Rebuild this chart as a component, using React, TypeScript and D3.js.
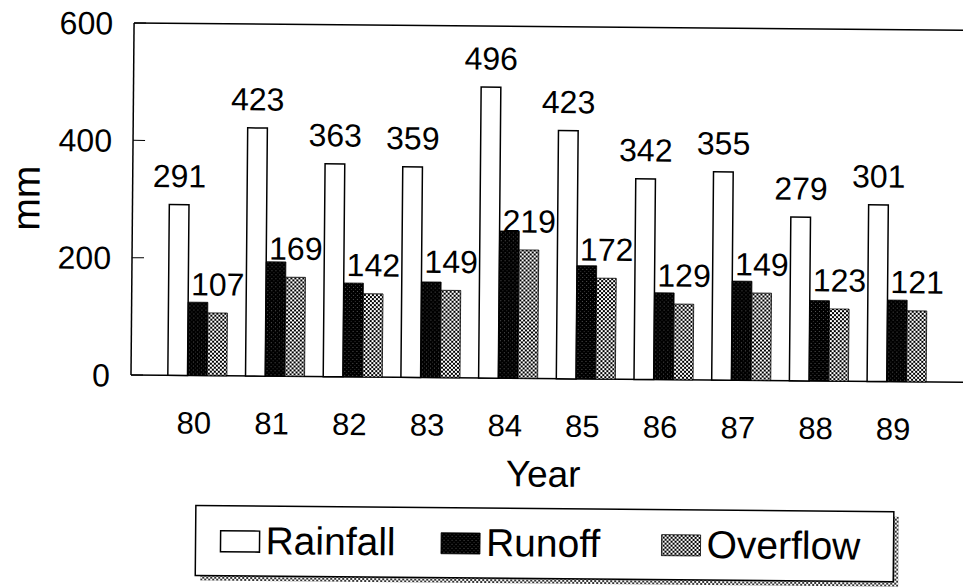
import React from "react";
import * as d3 from "d3";

const years = ["80", "81", "82", "83", "84", "85", "86", "87", "88", "89"];
const seriesNames = ["Rainfall", "Runoff", "Overflow"];
const rainfall = [291, 423, 363, 359, 496, 423, 342, 355, 279, 301];
const runoff = [125, 195, 160, 163, 251, 193, 148, 169, 137, 139];
const overflow = [107, 169, 142, 149, 219, 172, 129, 149, 123, 121];
const yTicks = [0, 200, 400, 600];

const width = 963;
const height = 587;
const left = 131;
const right = 963;
const top = 23;
const bottom = 375;
const font = "'Liberation Sans', Arial, sans-serif";

const fills: Record<string, string> = {
  Rainfall: "#fff",
  Runoff: "url(#runoffPat)",
  Overflow: "url(#overflowPat)",
};

const App: React.FC = () => {
  const x = d3
    .scaleBand<string>()
    .domain(years)
    .range([left, right])
    .paddingInner(0.24)
    .paddingOuter(0.474);
  const xSub = d3
    .scaleBand<string>()
    .domain(seriesNames)
    .range([0, x.bandwidth()]);
  const y = d3.scaleLinear().domain([0, 600]).range([bottom, top]);

  const rows = years.map((yr, i) => ({
    year: yr,
    values: [rainfall[i], runoff[i], overflow[i]],
  }));

  // legend box
  const legX = 197;
  const legY = 505;
  const legW = 698;
  const legH = 70;

  return (
    <svg
      width={width}
      height={height}
      style={{ position: "absolute", left: 0, top: 0, background: "#fff" }}
      fontFamily={font}
    >
      <defs>
        <pattern id="runoffPat" width={4} height={4} patternUnits="userSpaceOnUse">
          <rect width={4} height={4} fill="#000" />
          <rect x={1} y={1} width={1} height={1} fill="#555" />
          <rect x={3} y={3} width={1} height={1} fill="#333" />
        </pattern>
        <pattern id="overflowPat" width={4} height={4} patternUnits="userSpaceOnUse">
          <rect width={4} height={4} fill="#fff" />
          <rect x={0} y={0} width={2} height={2} fill="#000" />
          <rect x={2} y={2} width={2} height={2} fill="#000" />
        </pattern>
      </defs>
      <g transform={`rotate(0.5, ${left}, ${bottom})`}>
        {/* frame */}
        <line x1={left} x2={left} y1={top} y2={bottom} stroke="#000" strokeWidth={1.5} />
        <line x1={left} x2={right + 10} y1={top} y2={top} stroke="#000" strokeWidth={1.5} />
        <line x1={left} x2={right + 10} y1={bottom} y2={bottom} stroke="#000" strokeWidth={1.5} />
        {yTicks.map((t) => (
          <g key={t}>
            <line x1={left} x2={left + 12} y1={y(t)} y2={y(t)} stroke="#000" strokeWidth={1} />
            <text
              x={110}
              y={y(t)}
              dy="0.36em"
              textAnchor="end"
              fontSize={32}
            >
              {t}
            </text>
          </g>
        ))}
        <text
          transform={`translate(38, 199) rotate(-90)`}
          textAnchor="middle"
          fontSize={39}
        >
          mm
        </text>

        {/* bars */}
        {rows.map((r) => (
          <g key={r.year} transform={`translate(${x(r.year)},0)`}>
            {r.values.map((v, j) => (
              <rect
                key={seriesNames[j]}
                x={xSub(seriesNames[j])}
                y={y(v)}
                width={xSub.bandwidth()}
                height={bottom - y(v)}
                fill={fills[seriesNames[j]]}
                stroke="#000"
                strokeWidth={j === 0 ? 1.5 : 0.8}
              />
            ))}
            <text
              x={xSub("Rainfall")! + xSub.bandwidth() / 2}
              y={y(r.values[0]) - 17.5}
              textAnchor="middle"
              fontSize={32}
            >
              {r.values[0]}
            </text>
            <text
              x={xSub("Overflow")! + xSub.bandwidth() / 2}
              y={y(r.values[2]) - 17.5}
              textAnchor="middle"
              fontSize={32}
            >
              {r.values[2]}
            </text>
            <text
              x={x.bandwidth() / 2 - 3}
              y={433}
              textAnchor="middle"
              fontSize={31}
            >
              {r.year}
            </text>
          </g>
        ))}

        <text x={544} y={483} textAnchor="middle" fontSize={37}>
          Year
        </text>

        {/* legend */}
        <rect x={legX + 5} y={legY + 5} width={legW} height={legH} fill="url(#overflowPat)" opacity={0.8} />
        <rect x={legX} y={legY} width={legW} height={legH} fill="#fff" stroke="#000" strokeWidth={1.5} />
        {seriesNames.map((s, i) => {
          const sx = 222 + i * 220.5;
          return (
            <g key={s}>
              <rect
                x={sx}
                y={530}
                width={39}
                height={21}
                fill={fills[s]}
                stroke="#000"
                strokeWidth={i === 0 ? 1.5 : 0.8}
              />
              <text x={sx + 45} y={553} fontSize={39}>
                {s}
              </text>
            </g>
          );
        })}
      </g>
    </svg>
  );
};

export default App;
